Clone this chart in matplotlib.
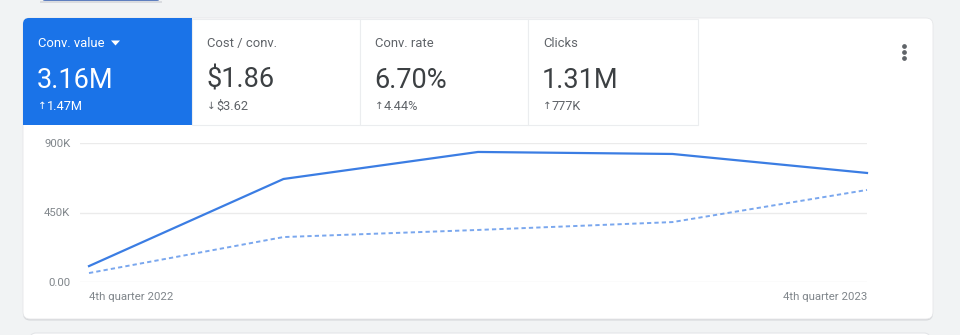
import matplotlib.pyplot as plt
from matplotlib.patches import FancyBboxPatch, Rectangle, Polygon

plt.rcParams['font.family'] = ['Roboto', 'DejaVu Sans']

# quarterly conversion value, current and comparison period
quarters = ['4th quarter 2022', '1st quarter 2023', '2nd quarter 2023',
            '3rd quarter 2023', '4th quarter 2023']
conv_value = [103000, 667000, 842000, 829000, 706000]
conv_value_prev = [58000, 291000, 337000, 388000, 596000]
y_ticks = [0, 450000, 900000]
y_tick_labels = ['0.00', '450K', '900K']

# metric tiles
tile_names = ['Conv. value', 'Cost / conv.', 'Conv. rate', 'Clicks']
tile_values = ['3.16M', '$1.86', '6.70%', '1.31M']
tile_deltas = ['1.47M', '$3.62', '4.44%', '777K']
tile_up = [True, False, True, True]

W, H = 960, 335
fig = plt.figure(figsize=(W / 100, H / 100), dpi=100, facecolor='#f1f3f4')

# background layer in pixel coordinates
bg = fig.add_axes([0, 0, 1, 1], zorder=0)
bg.set_xlim(0, W)
bg.set_ylim(H, 0)
bg.axis('off')

# button peeking in at the top
bg.add_patch(FancyBboxPatch((42, -8), 118, 9, boxstyle='round,pad=0,rounding_size=3',
                            fc='#5f7fbf', ec='none'))
bg.add_patch(Rectangle((40, 1), 122, 2, fc='#dadce0', ec='none'))

# next card below
bg.add_patch(FancyBboxPatch((30, 333), 900, 20, boxstyle='round,pad=0,rounding_size=6',
                            fc='white', ec='#e3e5e8', lw=0.8))

# card shadow and card
bg.add_patch(FancyBboxPatch((23, 19.5), 910, 301, boxstyle='round,pad=0,rounding_size=7',
                            fc='#d5d7da', ec='none'))
bg.add_patch(FancyBboxPatch((23, 18), 910, 301, boxstyle='round,pad=0,rounding_size=7',
                            fc='white', ec='#e6e7e9', lw=0.6))

# metric tiles
tile_x = [23, 192, 360, 528]
tile_w = [169, 168, 168, 170]
for i, name in enumerate(tile_names):
    x0 = tile_x[i]
    if i == 0:
        bg.add_patch(FancyBboxPatch((x0, 18), tile_w[i], 107,
                                    boxstyle='round,pad=0,rounding_size=6',
                                    fc='#1a73e8', ec='none'))
        bg.add_patch(Rectangle((x0 + 8, 18), tile_w[i] - 8, 107, fc='#1a73e8', ec='none'))
        bg.add_patch(Rectangle((x0, 40), tile_w[i], 85, fc='#1a73e8', ec='none'))
        c_head, c_big, c_sub = 'white', 'white', 'white'
        # dropdown caret
        bg.add_patch(Polygon([(111, 40.5), (120, 40.5), (115.5, 45.5)], closed=True,
                             fc='white', ec='none'))
    else:
        bg.add_patch(Rectangle((x0, 18.5), tile_w[i], 106, fc='white', ec='#ebedef', lw=0.8))
        c_head, c_big, c_sub = '#5f6368', '#3c4043', '#5f6368'
    tx = x0 + 15
    bg.text(tx, 47, name, color=c_head, fontsize=9.4, va='baseline', ha='left')
    bg.text(tx - 1, 88, tile_values[i], color=c_big, fontsize=19.5, va='baseline', ha='left')
    arrow = '\u2191' if tile_up[i] else '\u2193'
    bg.text(tx, 109, arrow, color=c_sub, fontsize=7.5, va='baseline', ha='left',
            family=['DejaVu Sans'])
    bg.text(tx + 9, 110, tile_deltas[i], color=c_sub, fontsize=9.2, va='baseline', ha='left')

# overflow menu dots
for yy in (45.5, 51.5, 57.5):
    bg.plot(904, yy, 'o', ms=2.4, color='#5f6368')

# chart area
left_px, right_px, top_px, bottom_px = 80, 867, 143, 282
ax = fig.add_axes([left_px / W, 1 - bottom_px / H,
                   (right_px - left_px) / W, (bottom_px - top_px) / H], zorder=1)
ax.set_facecolor('none')
step = (867 - 89) / 4
x = list(range(len(quarters)))
ax.set_xlim(-(89 - left_px) / step, 4)
ax.set_ylim(0, 900000)

ax.plot(x, conv_value_prev, color='#7aa7ee', lw=1.4, linestyle=(0, (2.2, 1.6)),
        clip_on=False, zorder=3)
ax.plot(x, conv_value, color='#3b7de3', lw=1.6, clip_on=False, zorder=4)

ax.set_yticks(y_ticks)
ax.set_yticklabels(y_tick_labels)
ax.grid(axis='y', color='#ebebeb', lw=1)
ax.set_axisbelow(True)
for s in ax.spines.values():
    s.set_visible(False)
ax.tick_params(axis='y', length=0, pad=7, labelsize=8.2, labelcolor='#80868b')

ax.set_xticks([0, 4])
ax.set_xticklabels([quarters[0], quarters[-1]])
ax.tick_params(axis='x', length=0, pad=7, labelsize=8.2, labelcolor='#80868b')
xl = ax.get_xticklabels()
xl[0].set_ha('left')
xl[1].set_ha('right')

fig.savefig('out.png', dpi=100, facecolor=fig.get_facecolor())
